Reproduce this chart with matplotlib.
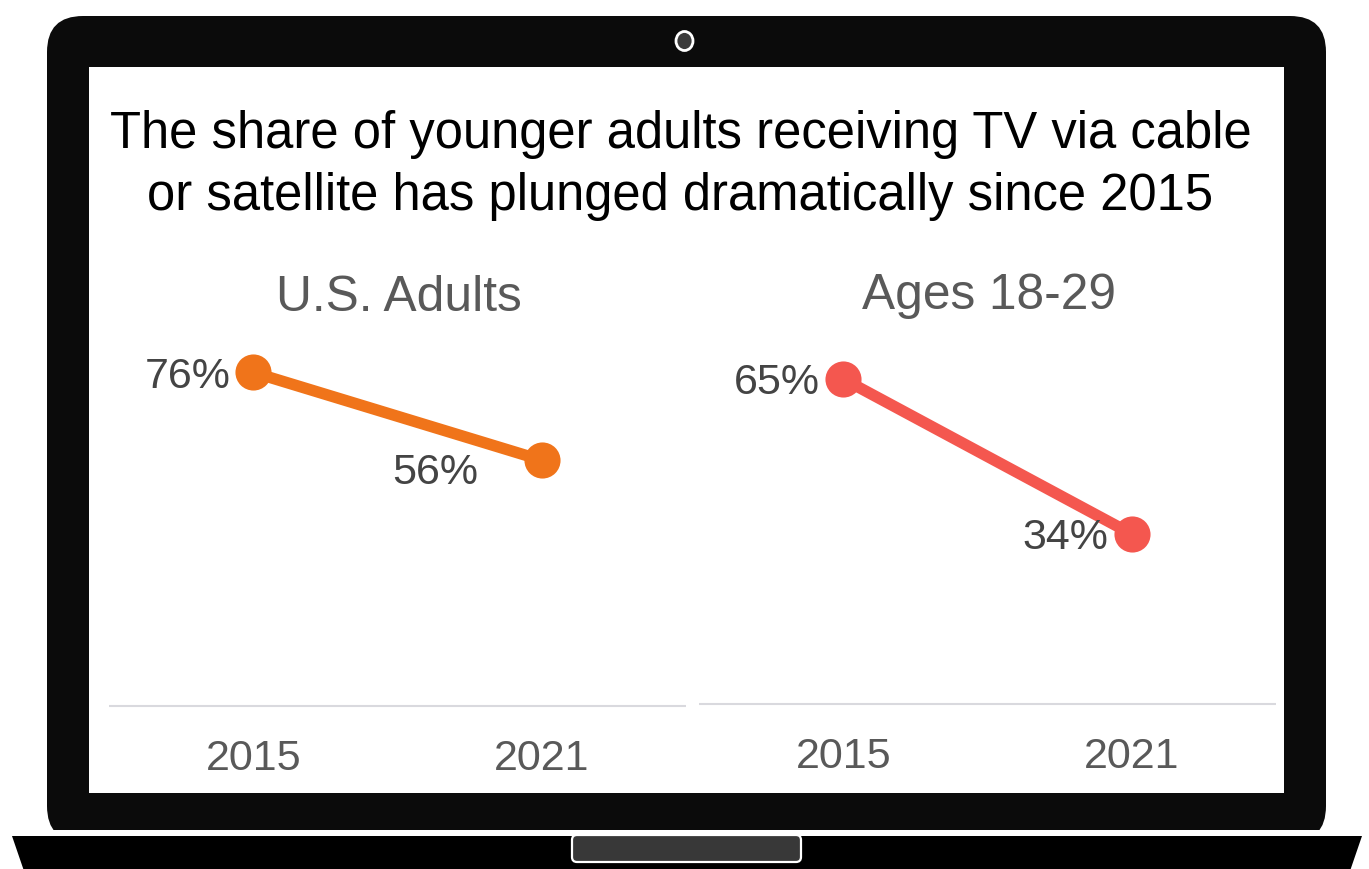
import matplotlib
matplotlib.use("Agg")
import matplotlib.pyplot as plt
from matplotlib.patches import FancyBboxPatch, Polygon, Rectangle, Ellipse

W, H = 1369, 870

years = ["2015", "2021"]
adults_share = [76, 56]
young_share = [65, 34]
title_text = "The share of younger adults receiving TV via cable\nor satellite has plunged dramatically since 2015"
panel_titles = ["U.S. Adults", "Ages 18-29"]

plt.rcParams["font.family"] = ["Liberation Sans", "DejaVu Sans"]

fig = plt.figure(figsize=(W / 100, H / 100), dpi=100, facecolor="white")

# Laptop frame, drawn in pixel coordinates
frame = fig.add_axes([0, 0, 1, 1], zorder=0)
frame.set_xlim(0, W)
frame.set_ylim(H - 1, -1)
frame.axis("off")

r = 36
frame.add_patch(FancyBboxPatch((47 + r, 16 + r), 1279 - 2 * r, 830 - r - 16 - r + 12,
                               boxstyle=f"round,pad={r},rounding_size={r}",
                               fc="#0b0b0b", ec="none", clip_on=True))
frame.add_patch(Rectangle((0, 830), W, 41, fc="white", ec="none", zorder=1))
frame.add_patch(Rectangle((89, 67), 1195, 726, fc="white", ec="none", zorder=2))
frame.add_patch(Polygon([(12, 836), (1362, 836), (1350, 871), (24, 871)],
                        fc="black", ec="none", zorder=2))
frame.add_patch(FancyBboxPatch((575, 838), 223, 21,
                               boxstyle="round,pad=3,rounding_size=5",
                               fc="#383838", ec="white", lw=1.6, zorder=3))
frame.add_patch(Ellipse((684.5, 41), 17, 19, fc="#3a3a3a", ec="white", lw=2, zorder=3))

frame.text(680.5, 164.5, title_text, ha="center", va="center", fontsize=36.5,
           color="black", linespacing=1.32, zorder=4)


def slope_panel(left, right, base_y, top_y, ymax, values, color, title, title_y, offsets):
    ax = fig.add_axes([left / W, 1 - (base_y + 1) / H, (right - left) / W, (base_y - top_y) / H],
                      zorder=2)
    ax.patch.set_alpha(0)
    ax.set_xlim(-0.5, 1.5)
    ax.set_ylim(0, ymax)
    ax.plot([0, 1], values, color=color, lw=8.2, marker="o", ms=26, mew=0,
            solid_capstyle="butt", clip_on=False)
    for spine in ["left", "right", "top"]:
        ax.spines[spine].set_visible(False)
    ax.spines["bottom"].set_color("#d9d9de")
    ax.spines["bottom"].set_linewidth(1.5)
    ax.spines["bottom"].set_capstyle("butt")
    ax.set_yticks([])
    ax.set_xticks([0, 1], years)
    ax.tick_params(axis="x", length=0, labelsize=31, labelcolor="#595959", pad=23)
    for x, v, (dx, dy) in zip([0, 1], values, offsets):
        ax.annotate(f"{v}%", (x, v), xytext=(dx, dy), textcoords="offset pixels",
                    ha="center", va="center", fontsize=31, color="#444444", zorder=5)
    frame.text((left + right) / 2 + 1, title_y, title, ha="center", va="center",
               fontsize=35.7, color="#595959", zorder=4)
    return ax


slope_panel(109, 686, 706, 340, 366 / 4.39, adults_share, "#f0741a",
            panel_titles[0], 297, [(-66, -4), (-107, -12)])
slope_panel(699, 1276, 704, 340, 364 / 5.0, young_share, "#f4574f",
            panel_titles[1], 295, [(-66, -3), (-66, -3)])

fig.savefig("out.png", dpi=100)
